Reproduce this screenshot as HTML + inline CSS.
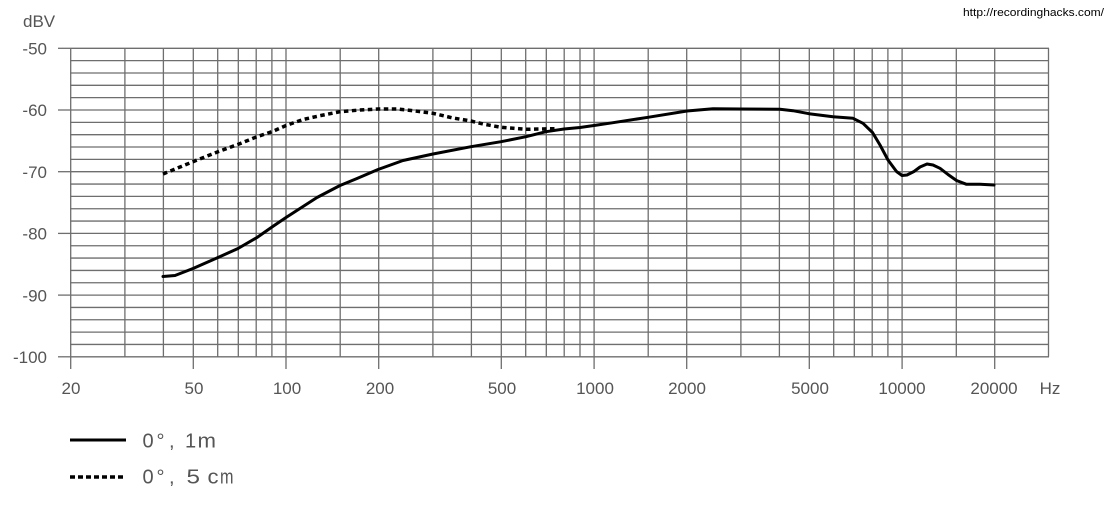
<!DOCTYPE html>
<html>
<head>
<meta charset="utf-8">
<style>
html,body{margin:0;padding:0;background:#fff;}
svg{display:block;}
text{font-family:"Liberation Sans",sans-serif;}
</style>
</head>
<body>
<svg width="1105" height="518" viewBox="0 0 1105 518" xmlns="http://www.w3.org/2000/svg">
<rect width="1105" height="518" fill="#fff"/>
<text x="1104" y="16" font-size="11" fill="#000" text-anchor="end" textLength="141" lengthAdjust="spacingAndGlyphs">http://recordinghacks.com/</text>
<g stroke="#6e6e6e" stroke-width="1.3" fill="none">
<line x1="70" y1="48.3" x2="1049" y2="48.3"/><line x1="70" y1="60.64" x2="1049" y2="60.64"/><line x1="70" y1="72.98" x2="1049" y2="72.98"/><line x1="70" y1="85.32" x2="1049" y2="85.32"/><line x1="70" y1="97.66" x2="1049" y2="97.66"/><line x1="70" y1="110" x2="1049" y2="110"/><line x1="70" y1="122.34" x2="1049" y2="122.34"/><line x1="70" y1="134.68" x2="1049" y2="134.68"/><line x1="70" y1="147.02" x2="1049" y2="147.02"/><line x1="70" y1="159.36" x2="1049" y2="159.36"/><line x1="70" y1="171.7" x2="1049" y2="171.7"/><line x1="70" y1="184.04" x2="1049" y2="184.04"/><line x1="70" y1="196.38" x2="1049" y2="196.38"/><line x1="70" y1="208.72" x2="1049" y2="208.72"/><line x1="70" y1="221.06" x2="1049" y2="221.06"/><line x1="70" y1="233.4" x2="1049" y2="233.4"/><line x1="70" y1="245.74" x2="1049" y2="245.74"/><line x1="70" y1="258.08" x2="1049" y2="258.08"/><line x1="70" y1="270.42" x2="1049" y2="270.42"/><line x1="70" y1="282.76" x2="1049" y2="282.76"/><line x1="70" y1="295.1" x2="1049" y2="295.1"/><line x1="70" y1="307.44" x2="1049" y2="307.44"/><line x1="70" y1="319.78" x2="1049" y2="319.78"/><line x1="70" y1="332.12" x2="1049" y2="332.12"/><line x1="70" y1="344.46" x2="1049" y2="344.46"/><line x1="70" y1="356.8" x2="1049" y2="356.8"/>
<line x1="58" y1="48.3" x2="70" y2="48.3"/><line x1="58" y1="110" x2="70" y2="110"/><line x1="58" y1="171.7" x2="70" y2="171.7"/><line x1="58" y1="233.4" x2="70" y2="233.4"/><line x1="58" y1="295.1" x2="70" y2="295.1"/><line x1="58" y1="356.8" x2="70" y2="356.8"/>
<line x1="70.7" y1="48.3" x2="70.7" y2="369"/>
<line x1="124.9" y1="48.3" x2="124.9" y2="356.8"/>
<line x1="163.4" y1="48.3" x2="163.4" y2="356.8"/>
<line x1="193.3" y1="48.3" x2="193.3" y2="369"/>
<line x1="217.7" y1="48.3" x2="217.7" y2="356.8"/>
<line x1="238.3" y1="48.3" x2="238.3" y2="356.8"/>
<line x1="256.2" y1="48.3" x2="256.2" y2="356.8"/>
<line x1="271.9" y1="48.3" x2="271.9" y2="356.8"/>
<line x1="286" y1="48.3" x2="286" y2="369"/>
<line x1="340.2" y1="48.3" x2="340.2" y2="356.8"/>
<line x1="378.7" y1="48.3" x2="378.7" y2="369"/>
<line x1="432.9" y1="48.3" x2="432.9" y2="356.8"/>
<line x1="471.4" y1="48.3" x2="471.4" y2="356.8"/>
<line x1="501.3" y1="48.3" x2="501.3" y2="369"/>
<line x1="525.7" y1="48.3" x2="525.7" y2="356.8"/>
<line x1="546.3" y1="48.3" x2="546.3" y2="356.8"/>
<line x1="564.2" y1="48.3" x2="564.2" y2="356.8"/>
<line x1="580" y1="48.3" x2="580" y2="356.8"/>
<line x1="594.1" y1="48.3" x2="594.1" y2="369"/>
<line x1="648.2" y1="48.3" x2="648.2" y2="356.8"/>
<line x1="686.7" y1="48.3" x2="686.7" y2="369"/>
<line x1="740.9" y1="48.3" x2="740.9" y2="356.8"/>
<line x1="779.4" y1="48.3" x2="779.4" y2="356.8"/>
<line x1="809.3" y1="48.3" x2="809.3" y2="369"/>
<line x1="833.7" y1="48.3" x2="833.7" y2="356.8"/>
<line x1="854.3" y1="48.3" x2="854.3" y2="356.8"/>
<line x1="872.2" y1="48.3" x2="872.2" y2="356.8"/>
<line x1="887.9" y1="48.3" x2="887.9" y2="356.8"/>
<line x1="902.1" y1="48.3" x2="902.1" y2="369"/>
<line x1="956.3" y1="48.3" x2="956.3" y2="356.8"/>
<line x1="994.7" y1="48.3" x2="994.7" y2="369"/>
<line x1="1048.5" y1="48.3" x2="1048.5" y2="356.8"/>
</g>
<text x="23" y="27" font-size="17" fill="#555">dBV</text>
<g font-size="17" fill="#555" text-anchor="end">
<text x="47" y="54.5">-50</text>
<text x="47" y="116.2">-60</text>
<text x="47" y="177.9">-70</text>
<text x="47" y="239.6">-80</text>
<text x="47" y="301.3">-90</text>
<text x="47" y="363">-100</text>
</g>
<g font-size="17" fill="#555" text-anchor="middle">
<text x="71" y="394">20</text>
<text x="194" y="394">50</text>
<text x="287" y="394">100</text>
<text x="380" y="394">200</text>
<text x="502" y="394">500</text>
<text x="595" y="394">1000</text>
<text x="687" y="394">2000</text>
<text x="810" y="394">5000</text>
<text x="902" y="394">10000</text>
<text x="994" y="394">20000</text>
<text x="1050" y="394">Hz</text>
</g>
<polyline fill="none" stroke="#000" stroke-width="3" stroke-linejoin="round" stroke-linecap="round" points="163,276.5 175,275.5 193,268.5 218,257.5 238,248.5 257,237.5 272,227 286,217.5 317,197.5 340,185.5 357,178.5 378,169.5 403,160.5 433,154 471,146.7 501,141.7 526,136.7 546,131.7 564,129 580,127.5 594,125.5 613,122.7 648,117.3 687,111 713,108.7 741,109 780,109.3 793,110.7 809,113.7 833,116.7 853,118.3 863,123.3 872.5,132.5 880,145 888,160 896.5,171.5 902,175.5 907,175 914,171.5 920,167 927,164 933,165 940,168.3 948,174.5 956.5,180.5 966.5,184.3 980,184.3 994,185"/>
<polyline fill="none" stroke="#000" stroke-width="3.5" stroke-dasharray="4.5 3.5" points="163,174 193,161.7 218,151.7 239,144 257,136.7 272,131.7 286,125.5 303,119.5 320,115.7 340,111.7 360,110 378,109 397,109 413,110.7 433,113.3 453,118 471,121 483,124 501,127.3 526,129.3 555,128.7"/>
<line x1="70" y1="440" x2="126" y2="440" stroke="#000" stroke-width="3"/>
<line x1="70" y1="477" x2="126" y2="477" stroke="#000" stroke-width="3.5" stroke-dasharray="5 3"/>
<g font-size="20" fill="#555">
<text x="142.5" y="447.5">0</text>
<text x="156.5" y="447.5">°</text>
<text x="169" y="447.5">,</text>
<text x="185" y="447.5">1</text>
<text x="197.5" y="447.5" textLength="18.5" lengthAdjust="spacingAndGlyphs">m</text>
<text x="142.5" y="483.5">0</text>
<text x="156.5" y="483.5">°</text>
<text x="169" y="483.5">,</text>
<text x="186.5" y="483.5" textLength="13.5" lengthAdjust="spacingAndGlyphs">5</text>
<text x="207.5" y="483.5" textLength="11" lengthAdjust="spacingAndGlyphs">c</text>
<text x="220" y="483.5" textLength="13.5" lengthAdjust="spacingAndGlyphs">m</text>
</g>
</svg>
</body>
</html>
